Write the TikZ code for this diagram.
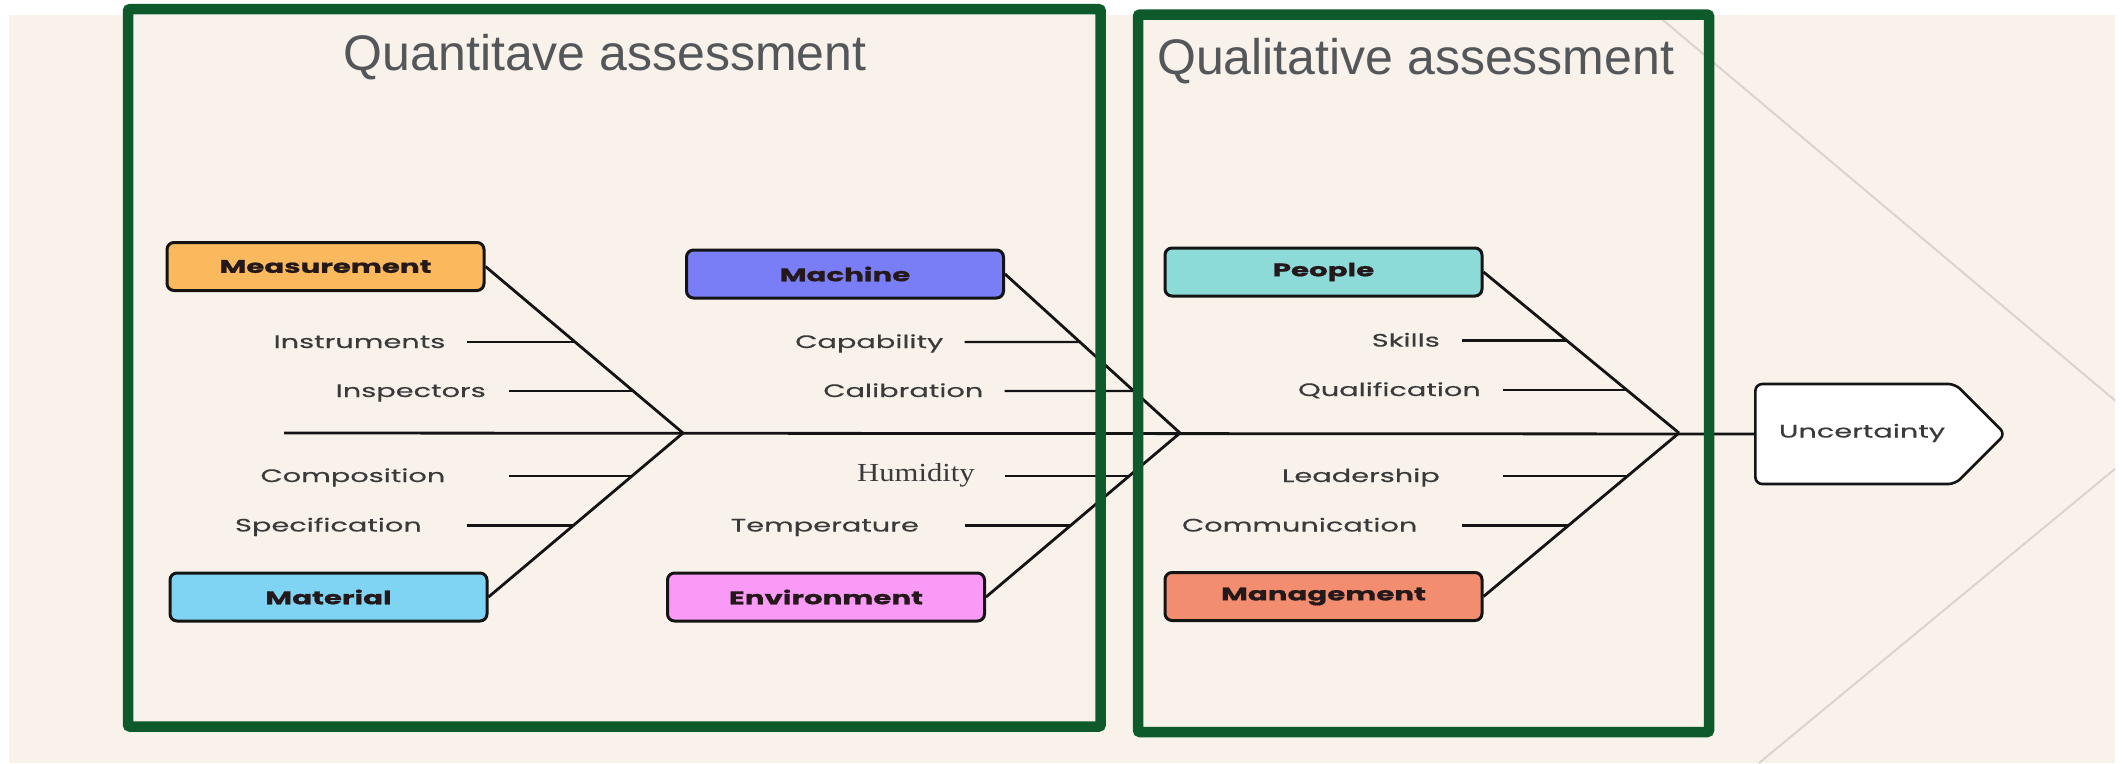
\documentclass[tikz,border=0pt]{standalone}
\usepackage{fontspec}
\usetikzlibrary{shapes.symbols}
\setmainfont{Liberation Sans}
\newfontfamily\titlefont{Liberation Sans}
\newfontfamily\fbfont[FakeStretch=1.6,FakeBold=0.4]{Poppins}
\newfontfamily\fbheavy[FakeStretch=1.6,FakeBold=0.9]{Poppins Bold}
\newfontfamily\humfont[FakeStretch=1.18]{Liberation Serif}

\definecolor{paper}{HTML}{F8F2EA}
\definecolor{chev}{HTML}{DAD4CD}
\definecolor{framegreen}{HTML}{0E5A2A}
\definecolor{titleink}{HTML}{54575A}
\definecolor{lblink}{HTML}{3A3A3A}
\definecolor{catink}{HTML}{24181A}
\definecolor{boneink}{HTML}{141414}
\definecolor{cMeas}{HTML}{F9B95C}
\definecolor{cMach}{HTML}{7A7EF6}
\definecolor{cMat}{HTML}{7FD4F4}
\definecolor{cEnv}{HTML}{F99AF6}
\definecolor{cPeo}{HTML}{8CDBD8}
\definecolor{cMan}{HTML}{F28E6F}

% horizontal rib: #1 name, #2 start point, #3 bone it runs into (a--b)
\newcommand\fishrib[3]{%
  \coordinate (#1) at (#2);
  \coordinate (#1x) at ([xshift=300pt]#1);
  \draw[ribline] (#1) -- (intersection of #3 and #1--#1x);
}

\begin{document}
\begin{tikzpicture}[x=1pt,y=-1pt,
  catbox/.style={draw=boneink, line width=3pt, rounded corners=7pt,
    minimum width=317pt, minimum height=48pt, inner sep=0pt,
    font=\fbheavy\fontsize{18.3}{21}\selectfont, text=catink},
  lbl/.style={anchor=base east, inner sep=0pt,
    font=\fbfont\fontsize{18}{21}\selectfont, text=lblink},
  bone/.style={draw=boneink, line width=2.8pt},
  ribline/.style={draw=boneink, line width=2.4pt},
  frame/.style={draw=framegreen, line width=10.5pt, rounded corners=2pt},
  title/.style={anchor=base west, inner sep=0pt,
    font=\titlefont\fontsize{50}{60}\selectfont, text=titleink}]

\useasboundingbox (0,0) rectangle (2122,763);
\fill[white] (0,0) rectangle (2122,763);
\fill[paper] (9,15) rectangle (2115,763);
\begin{scope}
  \clip (9,15) rectangle (2115,763);
  \draw[chev, line width=2pt] (1657,15) -- (2156,435) -- (1759,763);
\end{scope}

% category boxes
\node[catbox, fill=cMeas] (meas) at (325.5,266.5) {Measurement};
\node[catbox, fill=cMach] (mach) at (845,274) {Machine};
\node[catbox, fill=cMat]  (mat)  at (328.5,597) {Material};
\node[catbox, fill=cEnv]  (env)  at (826,597) {Environment};
\node[catbox, fill=cPeo]  (peo)  at (1323.5,272) {People};
\node[catbox, fill=cMan]  (man)  at (1323.5,596.5) {Management};

% effect head
\node[signal, signal to=east, signal pointer angle=90, draw=boneink,
  line width=2.6pt, fill=white, rounded corners=7pt, anchor=west,
  minimum width=250pt, minimum height=100pt, inner sep=0pt] (unc) at (1754,434) {};
\node[inner sep=0pt, font=\fbfont\fontsize{18}{21}\selectfont, text=lblink]
  (unctext) at (1862,433) {Uncertainty};

% spine
\coordinate (tail) at (284,433);
\coordinate (j1) at (683,433);
\coordinate (j2) at (1180,433);
\coordinate (j3) at (1679,433);
\draw[bone] (tail) -- (unc.west);

% main bones
\draw[bone] (meas.east) -- (j1);
\draw[bone] (mat.east) -- (j1);
\draw[bone] (mach.east) -- (j2);
\draw[bone] (env.east) -- (j2);
\draw[bone] (peo.east) -- (j3);
\draw[bone] (man.east) -- (j3);

% causes
\node[lbl] (l1) at (445.5,348) {Instruments};
\node[lbl] (l2) at (486,397) {Inspectors};
\node[lbl] (l3) at (445.5,482) {Composition};
\node[lbl] (l4) at (422,531.5) {Specification};
\node[lbl] (l5) at (943.5,348) {Capability};
\node[lbl] (l6) at (983.5,397) {Calibration};
\node[anchor=base east, inner sep=0pt, font=\humfont\fontsize{26}{30}\selectfont, text=lblink] (l7) at (975,481.7) {Humidity};
\node[lbl] (l8) at (919,531.5) {Temperature};
\node[lbl] (l9) at (1440,346.6) {Skills};
\node[lbl] (l10) at (1481,396) {Qualification};
\node[lbl] (l11) at (1440,482) {Leadership};
\node[lbl] (l12) at (1417.5,531.5) {Communication};

\fishrib{r1}{466.5,342}{meas.east--j1}
\fishrib{r2}{508.6,391}{meas.east--j1}
\fishrib{r3}{508.6,476}{mat.east--j1}
\fishrib{r4}{466.5,525.5}{mat.east--j1}
\fishrib{r5}{964.6,342}{mach.east--j2}
\fishrib{r6}{1004.6,391}{mach.east--j2}
\fishrib{r7}{1004.6,476}{env.east--j2}
\fishrib{r8}{964.6,525.5}{env.east--j2}
\fishrib{r9}{1462,340.6}{peo.east--j3}
\fishrib{r10}{1503,390}{peo.east--j3}
\fishrib{r11}{1503,476}{man.east--j3}
\fishrib{r12}{1462,525.5}{man.east--j3}

% assessment frames
\draw[frame] (128,9.2) rectangle (1100.7,726.5);
\draw[frame] (1138,14.6) rectangle (1709,732);
\node[title] (t1) at (343.6,70.7) {Quantitave assessment};
\node[title] (t2) at (1157,74) {Qualitative assessment};
\end{tikzpicture}
\end{document}
